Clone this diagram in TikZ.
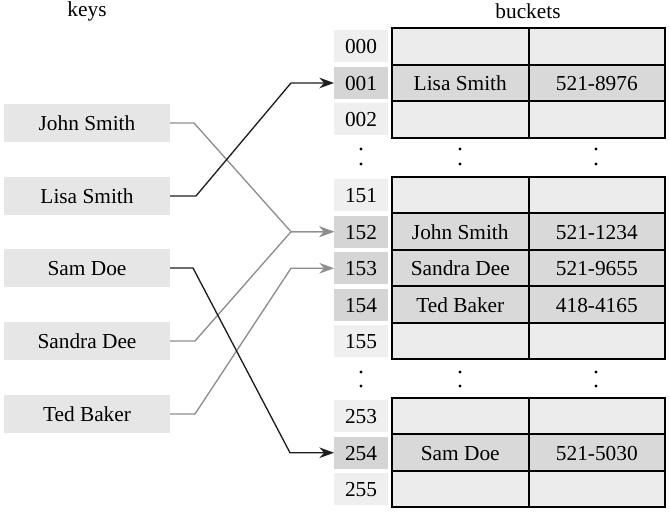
\documentclass[tikz,border=0pt]{standalone}
\usepackage{fontspec}
\setmainfont{Liberation Serif}
\usetikzlibrary{positioning, calc, arrows.meta}
\definecolor{keyfill}{HTML}{E6E6E6}
\definecolor{idxlight}{HTML}{EFEFEF}
\definecolor{idxdark}{HTML}{D5D5D5}
\definecolor{celllight}{HTML}{ECECEC}
\definecolor{celldark}{HTML}{D9D9D9}
\definecolor{linkgray}{HTML}{8E8E8E}
\definecolor{linkdark}{HTML}{1E1E1E}
\tikzstyle{arrow} = [line width=1pt, linkdark, -{Stealth[length=11pt,width=8pt]}]
\tikzstyle{grayArrow} = [arrow, linkgray]
\tikzstyle{keyRec} = [rectangle, minimum width=124.5pt, minimum height=28.5pt, outer sep=0pt, text height=12pt, text depth=1pt, text centered, fill=keyfill]
\tikzstyle{idxRec} = [rectangle, minimum width=40.5pt, minimum height=24pt, outer sep=0pt, text height=12pt, text depth=1pt, text centered, fill=idxlight]
\tikzstyle{idxRecD} = [idxRec, fill=idxdark]
\tikzstyle{cellRec} = [rectangle, minimum width=102.4pt, minimum height=27.375pt, outer sep=0pt, text height=12pt, text depth=1pt, text centered, draw=black, line width=1.5pt, fill=celllight]
\tikzstyle{cellRecD} = [cellRec, fill=celldark]

\begin{document}
\begin{tikzpicture}[x=0.75pt, y=0.75pt, node distance=27.375pt, font=\fontsize{16}{19}\selectfont]
		\useasboundingbox (0,0) rectangle (669,-513);
		\node (keysT) at (87,-11) {keys};
		\node (bucketsT) at (528,-11) {buckets};
		% keys
		\node (john) [keyRec] at (87,-123) {John Smith};
		\node (lisa) [keyRec] at (87,-196) {Lisa Smith};
		\node (sam) [keyRec] at (87,-268) {Sam Doe};
		\node (sandra) [keyRec] at (87,-341) {Sandra Dee};
		\node (ted) [keyRec] at (87,-414) {Ted Baker};
		% buckets 000-002
		\node (i000) [idxRec] at (361,-46.5) {000};
		\node (i001) [idxRecD, below of=i000] {001};
		\node (i002) [idxRec, below of=i001] {002};
		\node (n000) [cellRec, right=3pt of i000] {};
		\node (p000) [cellRec, right=0pt of n000] {};
		\node (n001) [cellRecD, right=3pt of i001] {Lisa Smith};
		\node (p001) [cellRecD, right=0pt of n001] {521-8976};
		\node (n002) [cellRec, right=3pt of i002] {};
		\node (p002) [cellRec, right=0pt of n002] {};
		% buckets 151-155
		\node (i151) [idxRec] at (361,-195.25) {151};
		\node (i152) [idxRecD, below of=i151] {152};
		\node (i153) [idxRecD, below of=i152] {153};
		\node (i154) [idxRecD, below of=i153] {154};
		\node (i155) [idxRec, below of=i154] {155};
		\node (n151) [cellRec, right=3pt of i151] {};
		\node (p151) [cellRec, right=0pt of n151] {};
		\node (n152) [cellRecD, right=3pt of i152] {John Smith};
		\node (p152) [cellRecD, right=0pt of n152] {521-1234};
		\node (n153) [cellRecD, right=3pt of i153] {Sandra Dee};
		\node (p153) [cellRecD, right=0pt of n153] {521-9655};
		\node (n154) [cellRecD, right=3pt of i154] {Ted Baker};
		\node (p154) [cellRecD, right=0pt of n154] {418-4165};
		\node (n155) [cellRec, right=3pt of i155] {};
		\node (p155) [cellRec, right=0pt of n155] {};
		% buckets 253-255
		\node (i253) [idxRec] at (361,-416.25) {253};
		\node (i254) [idxRecD, below of=i253] {254};
		\node (i255) [idxRec, below of=i254] {255};
		\node (n253) [cellRec, right=3pt of i253] {};
		\node (p253) [cellRec, right=0pt of n253] {};
		\node (n254) [cellRecD, right=3pt of i254] {Sam Doe};
		\node (p254) [cellRecD, right=0pt of n254] {521-5030};
		\node (n255) [cellRec, right=3pt of i255] {};
		\node (p255) [cellRec, right=0pt of n255] {};
		% vertical dots
		\fill (361,-149) circle (1.3pt) (361,-164) circle (1.3pt);
		\fill (460,-149) circle (1.3pt) (460,-164) circle (1.3pt);
		\fill (596,-149) circle (1.3pt) (596,-164) circle (1.3pt);
		\fill (361,-372) circle (1.3pt) (361,-386) circle (1.3pt);
		\fill (460,-372) circle (1.3pt) (460,-386) circle (1.3pt);
		\fill (596,-372) circle (1.3pt) (596,-386) circle (1.3pt);
		% links
		\draw [grayArrow] (john.east) -- ++(24,0) -- ($(i152.west)+(-43,0)$) -- (i152.west);
		\draw [grayArrow] (sandra.east) -- ++(25,0) -- ($(i152.west)+(-43,0)$) -- (i152.west);
		\draw [grayArrow] (ted.east) -- ++(25,0) -- ($(i153.west)+(-43,0)$) -- (i153.west);
		\draw [arrow] (lisa.east) -- ++(26,0) -- ($(i001.west)+(-43,0)$) -- (i001.west);
		\draw [arrow] (sam.east) -- ++(23,0) -- ($(i254.west)+(-44,0)$) -- (i254.west);
	\end{tikzpicture}
\end{document}
